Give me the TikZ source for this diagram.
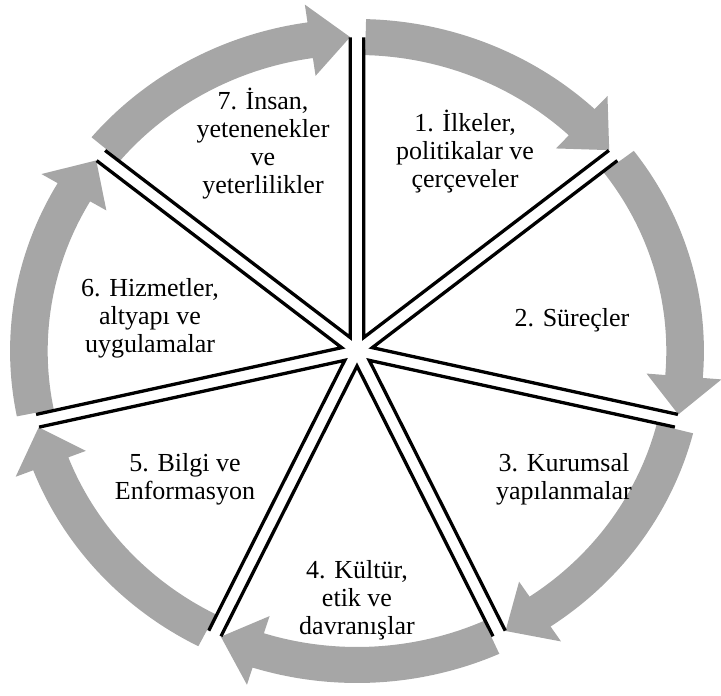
\documentclass[tikz,border=0pt]{standalone}
\usepackage{fontspec}
\setmainfont{Liberation Serif}
\usetikzlibrary{positioning}
\definecolor{cyGray}{HTML}{A6A6A6}
\tikzset{
  cyarrow/.style={fill=cyGray, draw=none},
  cyspoke/.style={draw=black, line width=3.3pt, line join=miter},
  cylabel/.style={font=\fontsize{26}{28}\selectfont, align=center, inner sep=0pt}
}

\begin{document}
\begin{tikzpicture}[x=1pt, y=1pt]
  \useasboundingbox (-357,-345) rectangle (364,351);
  \begin{scope}[xscale=1.045]
    \foreach \k in {0,...,6}{
      \pgfmathsetmacro{\ta}{90-\k*360/7}
      \pgfmathsetmacro{\tb}{\ta-360/7}
      \pgfmathsetmacro{\tm}{\ta-180/7}
      \pgfmathsetmacro{\ts}{\ta-1.5}
      \pgfmathsetmacro{\th}{\tb+8.2}
      \pgfmathsetmacro{\tt}{\tb+1.2}
      % ring arrow
      \fill[cyarrow] (\ts:332) arc[start angle=\ts, end angle=\th, radius=332]
        -- (\th:350) -- (\tt:314) -- (\th:278) -- (\th:296)
        arc[start angle=\th, end angle=\ts, radius=296] -- cycle;
      % sector edges
      \draw[cyspoke, shift={(\tm:15)}] (\ta:300) -- (0,0) -- (\tb:300);
    }
  \end{scope}
  \node[cylabel] (ilke) at (108,199) {1. İlkeler,\\politikalar ve\\çerçeveler};
  \node[cylabel] (surec) at (215,31) {2. Süreçler};
  \node[cylabel] (kurum) at (207,-128) {3. Kurumsal\\yapılanmalar};
  \node[cylabel] (kultur) at (0,-249) {4. Kültür,\\etik ve\\davranışlar};
  \node[cylabel] (bilgi) at (-172,-128) {5. Bilgi ve\\Enformasyon};
  \node[cylabel] (hizmet) at (-207,33) {6. Hizmetler,\\altyapı ve\\uygulamalar};
  \node[cylabel] (insan) at (-94,207) {7. İnsan,\\yetenenekler\\ve\\yeterlilikler};
\end{tikzpicture}
\end{document}
